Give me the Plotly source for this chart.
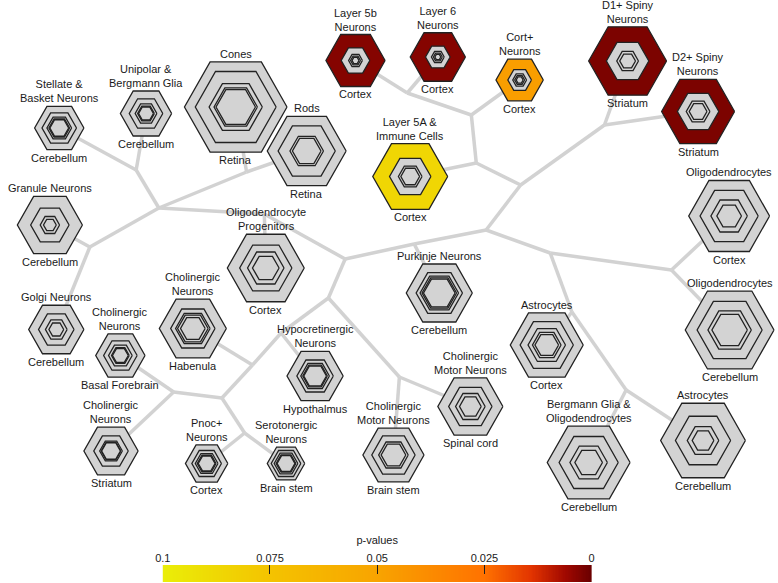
import numpy as np
import plotly.graph_objects as go
from plotly.colors import sample_colorscale

# ---------------- data ----------------
cell_types = [
    "Stellate &<br>Basket Neurons", "Unipolar &<br>Bergmann Glia", "Cones", "Rods",
    "Layer 5b<br>Neurons", "Layer 6<br>Neurons", "Cort+<br>Neurons", "Layer 5A &<br>Immune Cells",
    "D1+ Spiny<br>Neurons", "D2+ Spiny<br>Neurons", "Oligodendrocytes", "Oligodendrocytes",
    "Granule Neurons", "Oligodendrocyte<br>Progenitors", "Golgi Neurons", "Cholinergic<br>Neurons",
    "Cholinergic<br>Neurons", "Purkinje Neurons", "Hypocretinergic<br>Neurons", "Astrocytes",
    "Cholinergic<br>Motor Neurons", "Cholinergic<br>Neurons", "Pnoc+<br>Neurons", "Serotonergic<br>Neurons",
    "Cholinergic<br>Motor Neurons", "Bergmann Glia &<br>Oligodendrocytes", "Astrocytes",
]
tissues = [
    "Cerebellum", "Cerebellum", "Retina", "Retina",
    "Cortex", "Cortex", "Cortex", "Cortex",
    "Striatum", "Striatum", "Cortex", "Cerebellum",
    "Cerebellum", "Cortex", "Cerebellum", "Basal Forebrain",
    "Habenula", "Cerebellum", "Hypothalmus", "Cortex",
    "Spinal cord", "Striatum", "Cortex", "Brain stem",
    "Brain stem", "Cerebellum", "Cerebellum",
]
node_x = [52, 140, 231, 303, 352.5, 436, 519, 408, 628.5, 700, 731.5, 732,
          42.5, 261.5, 49, 114, 187.5, 437.5, 311.5, 546.5, 469, 104.5, 201.5, 282,
          391, 589, 705]
node_y = [128, 113.5, 107, 151, 60.5, 57, 80, 176.5, 61, 111.5, 216, 330,
          225, 268, 329.5, 355.5, 328.5, 293, 376, 345, 406.5, 451, 463.5, 463.5,
          455, 462.5, 440.5]
outer_size = [25, 26, 52, 40, 30, 28, 24, 38, 39.5, 37, 41, 45,
              33, 39, 28, 25, 34, 33.5, 28.5, 37, 33, 27.5, 21.5, 19,
              31, 42, 43]
ring_sizes = [
    [17.5, 12.5, 10.5, 9.5], [17, 11, 8.5, 7.5], [41, 27, 22, 20], [29, 17, 14.5],
    [14.5, 7, 5, 3.5], [12.5, 6.5, 4.5, 3], [12, 7, 5, 3.5], [21, 12, 9.5],
    [21.5, 11, 8], [21, 12, 9], [29.5, 18.5, 12.5], [33, 22, 18],
    [19.5, 9.8, 6.5], [26.5, 18.5, 13.5], [18, 11, 7.5], [17, 12, 9, 8],
    [22.5, 17.5, 15.5, 12.5], [23.5, 19.5, 17.5, 16], [18.5, 14.5, 12.5, 11.5], [27, 19, 14.5, 12],
    [22, 15, 11], [17.5, 11.5, 10, 9.5], [15, 11.5, 9.5, 8.5], [15, 12, 10, 9],
    [22, 15, 12.5], [30, 19, 14], [28, 16, 11],
]
# p-values (None = not significant, drawn grey)
p_values = [None, None, None, None, 0.003, 0.003, 0.047, 0.086, 0.002, 0.002, None, None,
            None, None, None, None, None, None, None, None, None, None, None, None,
            None, None, None]

# tree internal nodes
junctions = {
    "J0": (130, 170), "J1": (153, 208), "J2": (83, 247), "J3": (242, 172),
    "J4": (260, 214), "J5": (342, 259), "J6": (325, 298), "J7": (485, 230),
    "J8": (277, 333), "J9": (397, 377), "J10": (248, 365), "J11": (217, 398),
    "J12": (168, 392), "J13": (240, 433), "J14": (520, 185), "J15": (550, 253),
    "J16": (412, 244), "J17": (475, 163), "J18": (605, 125), "J19": (470, 115),
    "J20": (405, 93), "J21": (673, 270), "J22": (572, 312), "J23": (627, 390),
}
edges = [
    ("J0", 0), ("J0", 1), ("J0", "J1"), ("J1", "J2"), ("J2", 12), ("J2", 14),
    ("J1", "J3"), ("J3", 2), ("J3", 3), ("J1", "J4"), ("J4", 13), ("J4", "J5"),
    ("J5", "J6"), ("J6", "J8"), ("J8", 18), ("J8", "J10"), ("J10", 16), ("J10", "J11"),
    ("J11", "J12"), ("J12", 15), ("J12", 21), ("J11", "J13"), ("J13", 22), ("J13", 23),
    ("J6", "J9"), ("J9", 24), ("J9", 20), ("J5", "J16"), ("J16", 17), ("J16", "J7"),
    ("J7", "J14"), ("J14", "J17"), ("J17", 7), ("J17", "J19"), ("J19", 6), ("J19", "J20"),
    ("J20", 4), ("J20", 5), ("J14", "J18"), ("J18", 8), ("J18", 9),
    ("J7", "J15"), ("J15", "J21"), ("J21", 10), ("J21", 11), ("J15", "J22"),
    ("J22", 19), ("J22", "J23"), ("J23", 25), ("J23", 26),
]

colorbar_ticks = [0.1, 0.075, 0.05, 0.025, 0]
colorbar_ticktext = ["0.1", "0.075", "0.05", "0.025", "0"]
p_max = 0.1

# ---------------- styles ----------------
COLORSCALE = [[0.0, "#6a0000"], [0.06, "#a00800"], [0.14, "#e23400"], [0.25, "#ff7200"],
              [0.5, "#f8a400"], [0.75, "#f4c300"], [1.0, "#eaee08"]]
GREY = "#d3d3d3"
EDGE = "#d2d2d2"
OUTLINE = "#222222"
FONT = "Liberation Sans, Arial, sans-serif"
W, H = 778, 583


def pos(k):
    if isinstance(k, str):
        return junctions[k]
    return node_x[k], node_y[k]


def hexagon(cx, cy, r):
    ang = np.deg2rad(np.arange(0, 361, 60))
    return list(cx + r * np.cos(ang)), list(cy + r * np.sin(ang))


fig = go.Figure()

# tree edges
ex, ey = [], []
for a, b in edges:
    (x0, y0), (x1, y1) = pos(a), pos(b)
    ex += [x0, x1, None]
    ey += [y0, y1, None]
fig.add_trace(go.Scatter(x=ex, y=ey, mode="lines", line=dict(color=EDGE, width=3.5),
                         hoverinfo="skip", showlegend=False))

# outer hexagons
for i in range(len(node_x)):
    hx, hy = hexagon(node_x[i], node_y[i], outer_size[i])
    if p_values[i] is None:
        col = GREY
    else:
        col = sample_colorscale(COLORSCALE, [p_values[i] / p_max])[0]
    fig.add_trace(go.Scatter(x=hx, y=hy, mode="lines", fill="toself", fillcolor=col,
                             line=dict(color=OUTLINE, width=1.3), hoverinfo="skip",
                             showlegend=False))

# inner rings, one trace per ring level
max_levels = max(len(r) for r in ring_sizes)
for lev in range(max_levels):
    rx, ry = [], []
    for i in range(len(node_x)):
        if lev < len(ring_sizes[i]):
            hx, hy = hexagon(node_x[i], node_y[i], ring_sizes[i][lev])
            rx += hx + [None]
            ry += hy + [None]
    fig.add_trace(go.Scatter(x=rx, y=ry, mode="lines", fill="toself", fillcolor=GREY,
                             line=dict(color=OUTLINE, width=1.3), hoverinfo="skip",
                             showlegend=False))

# labels
annotations = []
for i in range(len(node_x)):
    h = outer_size[i] * np.sqrt(3) / 2
    lx = min(node_x[i], W - 46)
    annotations.append(dict(x=lx, y=node_y[i] - h - 1, xref="x", yref="y",
                            text=cell_types[i], showarrow=False, yanchor="bottom",
                            xanchor="center", font=dict(family=FONT, size=11, color="#1a1a1a"),
                            borderpad=0))
    annotations.append(dict(x=node_x[i], y=node_y[i] + h + 1, xref="x", yref="y",
                            text=tissues[i], showarrow=False, yanchor="top",
                            xanchor="center", font=dict(family=FONT, size=11, color="#1a1a1a"),
                            borderpad=0))

# colour bar (drawn as a heatmap strip so labels sit on top)
grad = np.linspace(0, p_max, 301)
fig.add_trace(go.Heatmap(x=grad, y=[0], z=[grad], colorscale=COLORSCALE, zmin=0, zmax=p_max,
                         showscale=False, hoverinfo="skip", xaxis="x2", yaxis="y2"))

fig.update_layout(
    width=W, height=H,
    margin=dict(l=0, r=0, t=0, b=0),
    paper_bgcolor="white", plot_bgcolor="white",
    xaxis=dict(range=[0, W], visible=False, domain=[0, 1]),
    yaxis=dict(range=[H, 0], visible=False, domain=[0, 1]),
    xaxis2=dict(domain=[157 / W, 592 / W], anchor="y2", range=[p_max, 0], side="top",
                showgrid=False, zeroline=False, showline=False, ticks="inside", ticklen=9,
                tickwidth=1.2, tickcolor="#202020", tickvals=colorbar_ticks,
                ticktext=colorbar_ticktext,
                tickfont=dict(family=FONT, size=11, color="#1a1a1a"),
                title=dict(text="p-values", font=dict(family=FONT, size=11, color="#1a1a1a"),
                           standoff=4)),
    yaxis2=dict(domain=[1 / H, 18 / H], anchor="x2", visible=False, range=[-0.5, 0.5]),
    annotations=annotations,
    showlegend=False,
)

fig.write_html("out.html", config={"displayModeBar": False})

# remove the default page margin so the figure sits flush in the window
with open("out.html", "r", encoding="utf-8") as f:
    page = f.read()
page = page.replace("<head>", "<head><style>html,body{margin:0;padding:0;overflow:hidden;}</style>", 1)
with open("out.html", "w", encoding="utf-8") as f:
    f.write(page)
